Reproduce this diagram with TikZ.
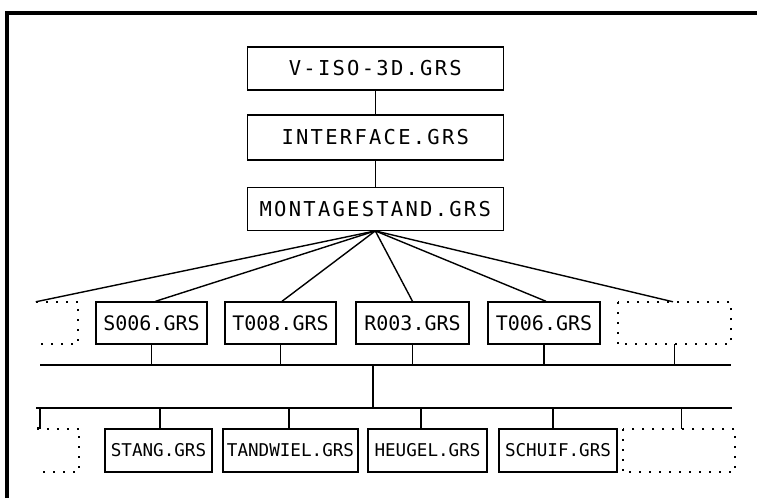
\documentclass[tikz,border=0pt]{standalone}
\usepackage{fontspec}
\newfontfamily\plotfont{DejaVu Sans Mono}
\newfontfamily\plotfontwide[LetterSpace=11]{DejaVu Sans Mono}
\tikzset{
  fbox/.style={draw, line width=1.4pt, inner sep=0pt},
  topbox/.style={fbox, minimum width=256pt, font=\plotfontwide\fontsize{20.5}{20.5}\selectfont},
  midbox/.style={fbox, minimum height=42pt, font=\plotfont\fontsize{20}{20}\selectfont},
  lowbox/.style={fbox, minimum height=43pt, font=\plotfont\fontsize{17.6}{17.6}\selectfont},
  ghost/.style={inner sep=0pt, draw=none},
  dotbox/.style={line width=2pt, dash pattern=on 2pt off 8pt},
  conn/.style={line width=1.4pt},
}
\begin{document}
\begin{tikzpicture}[x=1pt,y=-1pt]
\useasboundingbox (0,0) rectangle (757,498);
% frame
\draw[line width=3.5pt] (7,498) -- (7,13) -- (757,13);

% top column
\node[topbox, minimum height=43pt] (viso) at (375.3,68.5) {V-ISO-3D.GRS};
\node[topbox, minimum height=45pt] (iface) at (375.3,137.5) {INTERFACE.GRS};
\node[topbox, minimum height=43pt] (mont) at (375.3,208.7) {MONTAGESTAND.GRS};
\draw[conn] (viso.south) -- (iface.north);
\draw[conn] (iface.south) -- (mont.north);

% middle row
\node[ghost, minimum width=42pt, minimum height=42pt] (lm) at (57,323) {};
\node[midbox, minimum width=111pt] (s006) at (151.5,323) {S006.GRS};
\node[midbox, minimum width=111pt] (t008) at (280.5,323) {T008.GRS};
\node[midbox, minimum width=113pt] (r003) at (412.5,323) {R003.GRS};
\node[midbox, minimum width=112pt] (t006) at (544,323) {T006.GRS};
\node[ghost, minimum width=113pt, minimum height=42pt] (rm) at (674.5,323) {};
\draw[dotbox] (lm.north west) -- (lm.north east) -- (lm.south east) -- (lm.south west);
\draw[dotbox] (rm.north west) rectangle (rm.south east);

% fan-out from MONTAGESTAND
\draw[conn] (mont.south) -- (lm.north west);
\draw[conn] (mont.south) -- ([xshift=4pt]s006.north);
\draw[conn] (mont.south) -- ([xshift=1.5pt]t008.north);
\draw[conn] (mont.south) -- (r003.north);
\draw[conn] (mont.south) -- ([xshift=2pt]t006.north);
\draw[conn] (mont.south) -- ([xshift=-1.5pt]rm.north);

% upper bus
\coordinate (b1l) at (40,365);
\coordinate (b1r) at (731,365);
\coordinate (b1c) at (373,365);
\draw[conn] (b1l) -- (b1r);
\draw[conn] (s006.south) -- (s006.south |- b1l);
\draw[conn] (t008.south) -- (t008.south |- b1l);
\draw[conn] (r003.south) -- (r003.south |- b1l);
\draw[conn] (t006.south) -- (t006.south |- b1l);
\draw[conn] (rm.south) -- (rm.south |- b1l);

% lower bus
\coordinate (b2l) at (36,408);
\coordinate (b2r) at (732,408);
\coordinate (b2c) at (373,408);
\draw[conn] (b2l) -- (b2r);
\draw[conn] (b1c) -- (b2c);

% lower row
\node[ghost, minimum width=42pt, minimum height=43pt] (lb) at (58,450.5) {};
\node[lowbox, minimum width=107pt] (stang) at (158.5,450.5) {STANG.GRS};
\node[lowbox, minimum width=135pt] (tand) at (290.5,450.5) {TANDWIEL.GRS};
\node[lowbox, minimum width=119pt] (heug) at (427.5,450.5) {HEUGEL.GRS};
\node[lowbox, minimum width=118pt] (schuif) at (558,450.5) {SCHUIF.GRS};
\node[ghost, minimum width=112pt, minimum height=43pt] (rb) at (679,450.5) {};
\draw[dotbox] (lb.north west) -- (lb.north east) -- (lb.south east) -- (lb.south west);
\draw[dotbox] (rb.north west) rectangle (rb.south east);

% drops from lower bus
\coordinate (lbfoot) at (40,428);
\draw[conn] (lbfoot |- b2l) -- (lbfoot) -- (lb.north west |- lbfoot);
\draw[conn] ([xshift=1.5pt]stang.north) -- ([xshift=1.5pt]stang.north |- b2l);
\draw[conn] ([xshift=-1.5pt]tand.north) -- ([xshift=-1.5pt]tand.north |- b2l);
\draw[conn] ([xshift=-6.5pt]heug.north) -- ([xshift=-6.5pt]heug.north |- b2l);
\draw[conn] ([xshift=-5pt]schuif.north) -- ([xshift=-5pt]schuif.north |- b2l);
\draw[conn] ([xshift=2.5pt]rb.north) -- ([xshift=2.5pt]rb.north |- b2l);
\end{tikzpicture}
\end{document}
